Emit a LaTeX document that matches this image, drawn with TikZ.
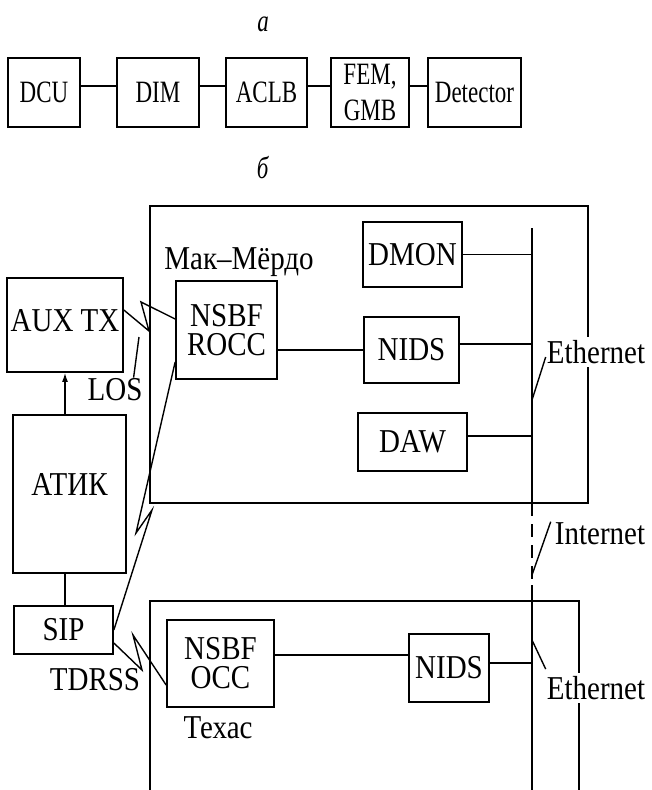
\documentclass[tikz,border=0pt]{standalone}
\usepackage{fontspec}
\setmainfont{Liberation Serif}
\usepackage{graphicx}
\usetikzlibrary{arrows.meta}
\newcommand\BT[1]{\scalebox{1}[1.15]{\renewcommand\arraystretch{0}\begin{tabular}{@{}c@{}}#1\end{tabular}}}
\newcommand\ST[1]{\scalebox{1}[1.35]{\renewcommand\arraystretch{0}\begin{tabular}{@{}c@{}}#1\end{tabular}}}
\tikzset{
  x=1pt,y=-1pt,
  box/.style={draw,line width=1.7pt,inner sep=0pt,font=\fontsize{29}{26}\selectfont},
  sbox/.style={draw,line width=1.7pt,inner sep=0pt,minimum height=69pt,font=\fontsize{23}{26}\selectfont},
  lab/.style={inner sep=1pt,font=\fontsize{29}{26}\selectfont},
  slab/.style={inner sep=1pt,font=\fontsize{23}{26}\selectfont},
  wire/.style={line width=1.4pt},
  bus/.style={line width=1.8pt},
  region/.style={line width=1.7pt},
}
\begin{document}
\begin{tikzpicture}
\useasboundingbox (0,0) rectangle (651,790);
% ---------- part a ----------
\node[slab] (la) at (263,25) {\ST{\textit{a}}};
\node[sbox,minimum width=72pt] (dcu) at (44,92.5) {\ST{DCU}};
\node[sbox,minimum width=82pt] (dim) at (158,92.5) {\ST{DIM}};
\node[sbox,minimum width=81pt] (aclb) at (266.5,92.5) {\ST{ACLB}};
\node[sbox,minimum width=78pt] (fem) at (370,92.5) {\ST{FEM,\\[11pt]GMB}};
\node[sbox,minimum width=93pt] (det) at (474.5,92.5) {\ST{Detector}};
\foreach \a/\b in {dcu/dim,dim/aclb,aclb/fem,fem/det}
  \draw[wire] ([yshift=6.5pt]\a.east) -- ([yshift=6.5pt]\b.west);
\node[slab] (lb) at (263,168) {\ST{\textit{б}}};
% ---------- part b : regions ----------
\node[draw,region,inner sep=0pt,minimum width=438pt,minimum height=297pt] (mcm) at (369,354.5) {};
\draw[region] (150,790) -- (150,601) -- (579,601) -- (579,790);
% Ethernet buses
\coordinate (e1t) at (532,228);
\coordinate (e1b) at (532,503);
\coordinate (e2t) at (532,585);
\coordinate (e2b) at (532,790);
\draw[bus] (e1t) -- (e1b);
\draw[bus,dash pattern=on 13pt off 8pt] (e1b) -- (e2t);
\draw[bus] (e2t) -- (e2b);
% ---------- nodes ----------
\node[box,minimum width=116pt,minimum height=94pt,text depth=12pt] (aux) at (65,325) {\BT{AUX TX}};
\node[box,minimum width=113pt,minimum height=158pt,text depth=22pt] (atik) at (69.5,494) {\BT{АТИК}};
\node[box,minimum width=99pt,minimum height=48pt] (sip) at (63.5,630) {\BT{SIP}};
\node[box,minimum width=101pt,minimum height=98pt] (rocc) at (226.5,330) {\BT{NSBF\\[6pt]ROCC}};
\node[box,minimum width=107pt,minimum height=87pt] (occ) at (220.5,663.5) {\BT{NSBF\\[6pt]OCC}};
\node[box,minimum width=99pt,minimum height=65pt] (dmon) at (412.5,254.5) {\BT{DMON}};
\node[box,minimum width=95pt,minimum height=66pt] (nids1) at (411.5,350) {\BT{NIDS}};
\node[box,minimum width=109pt,minimum height=58pt] (daw) at (412.5,442) {\BT{DAW}};
\node[box,minimum width=80pt,minimum height=68pt] (nids2) at (449,668) {\BT{NIDS}};
% ---------- labels ----------
\node[lab] (mcmlab) at (239,262) {\BT{Мак–Мёрдо}};
\node[lab] (texlab) at (218,728) {\BT{Техас}};
\node[lab] (los) at (115,390) {\BT{LOS}};
\node[lab] (tdrss) at (95,680) {\BT{TDRSS}};
\node[lab,fill=white,inner ysep=3pt] (eth1) at (596,352) {\BT{Ethernet}};
\node[lab] (inet) at (600,534) {\BT{Internet}};
\node[lab,fill=white,inner ysep=3pt] (eth2) at (596,688) {\BT{Ethernet}};
% ---------- connectors ----------
\draw[wire] (dmon.east) -- (dmon.east -| e1t);
\draw[wire] ([yshift=6pt]nids1.east) -- ([yshift=6pt]nids1.east -| e1t);
\draw[wire] ([yshift=6pt]daw.east) -- ([yshift=6pt]daw.east -| e1t);
\draw[wire] (rocc.east |- nids1.west) -- (nids1.west);
\draw[wire] ([yshift=8.5pt]occ.east) -- ([yshift=13pt]nids2.west);
\draw[wire] ([yshift=5pt]nids2.east) -- ([yshift=5pt]nids2.east -| e2t);
\draw[wire,-{Latex[length=9pt,width=6pt]}] (aux.south |- atik.north) -- (aux.south);
\draw[wire] (aux.south |- atik.south) -- (aux.south |- sip.north);
% radio links
\draw[wire] ([yshift=15pt]aux.east) -- (149,331) -- (141,302) -- ([yshift=11pt]rocc.west);
\draw[wire] (sip.east) -- (152,510) -- (136,533) -- ([yshift=-32pt]rocc.west);
\draw[wire] ([yshift=-13pt]sip.east) -- (142,670) -- (133,635) -- ([yshift=-21.5pt]occ.west);
% leaders
\coordinate (losend) at (139,337);
\draw[wire] ([xshift=-10pt]los.north east) -- (losend);
\coordinate (eth1leg) at (532,400);
\draw[wire] (eth1leg) -- ([yshift=-5pt]eth1.west);
\coordinate (inetleg) at (532,575);
\draw[wire] (inetleg) -- ([xshift=-3pt]inet.north west);
\coordinate (eth2leg) at (532,640);
\draw[wire] (eth2leg) -- ([yshift=4pt]eth2.north west);
\end{tikzpicture}
\end{document}
